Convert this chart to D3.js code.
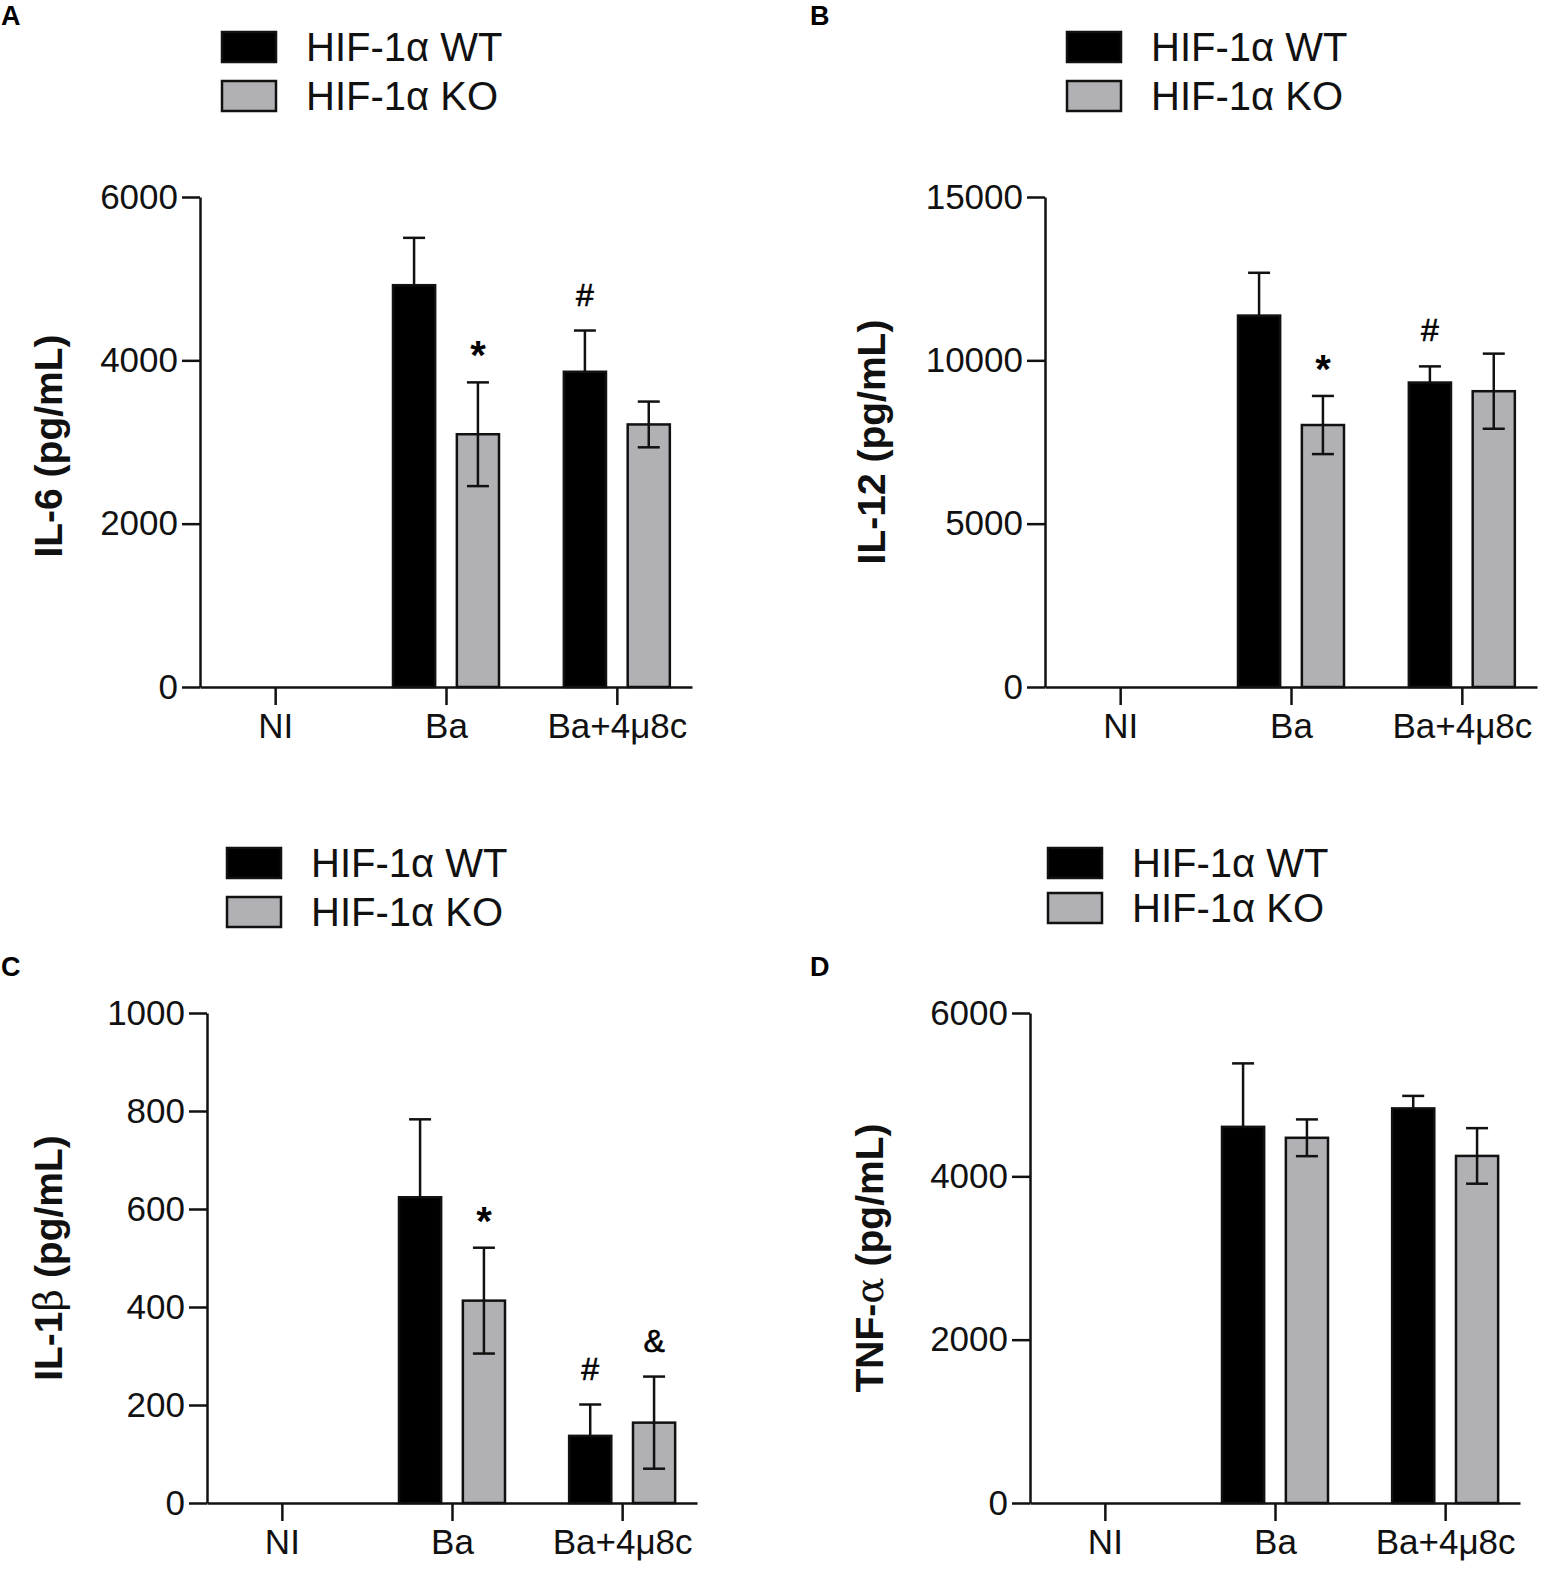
<!DOCTYPE html>
<html lang="en">
<head>
<meta charset="UTF-8" />
<title>HIF-1α cytokines</title>
<style>
  body { margin: 0; background: #fff; }
  svg { display: block; font-family: "Liberation Sans", Arial, sans-serif; }
  .axis path, .axis line { stroke: #111; stroke-width: 2.5px; }
  .axis text { font-size: 35px; fill: #111; font-family: "Liberation Sans", Arial, sans-serif; }
</style>
</head>
<body>
<svg id="fig" width="1562" height="1590"></svg>

<script src="https://d3js.org/d3.v7.min.js"></script>
<script>
// categories and groups
const categories = ['NI', 'Ba', 'Ba+4μ8c'];
const groups = ['HIF-1α WT', 'HIF-1α KO'];

// IL-6
const il6WT = [0, 4920, 3860];
const il6WTerr = [0, 580, 505];
const il6KO = [0, 3095, 3215];
const il6KOerr = [0, 635, 280];
const il6Ticks = [0, 2000, 4000, 6000];
const il6Marks = [['Ba', 1, '*'], ['Ba+4μ8c', 0, '#']];

// IL-12
const il12WT = [0, 11370, 9320];
const il12WTerr = [0, 1310, 495];
const il12KO = [0, 8020, 9055];
const il12KOerr = [0, 890, 1150];
const il12Ticks = [0, 5000, 10000, 15000];
const il12Marks = [['Ba', 1, '*'], ['Ba+4μ8c', 0, '#']];

// IL-1β
const il1bWT = [0, 624, 137];
const il1bWTerr = [0, 159, 64];
const il1bKO = [0, 413, 164];
const il1bKOerr = [0, 108, 94];
const il1bTicks = [0, 200, 400, 600, 800, 1000];
const il1bMarks = [['Ba', 1, '*'], ['Ba+4μ8c', 0, '#'], ['Ba+4μ8c', 1, '&']];

// TNF-α
const tnfWT = [0, 4606, 4832];
const tnfWTerr = [0, 777, 153];
const tnfKO = [0, 4472, 4250];
const tnfKOerr = [0, 225, 340];
const tnfTicks = [0, 2000, 4000, 6000];
const tnfMarks = [];

const colors = d3.scaleOrdinal().domain(groups).range(['#000000', '#b0b0b5']);

const panels = [
  { letter: 'A', label: ['IL-6 (pg/mL)'], vals: [il6WT, il6KO], errs: [il6WTerr, il6KOerr], ticks: il6Ticks, marks: il6Marks,
    lx: 1, ly: 25, legX: 222, legY: [32, 81], ax0: 200, ax1: 692, y0: 687, y1: 197, labX: 62, labY: 446 },
  { letter: 'B', label: ['IL-12 (pg/mL)'], vals: [il12WT, il12KO], errs: [il12WTerr, il12KOerr], ticks: il12Ticks, marks: il12Marks,
    lx: 810, ly: 25, legX: 1067, legY: [32, 81], ax0: 1045, ax1: 1537, y0: 687, y1: 197, labX: 885, labY: 442 },
  { letter: 'C', label: ['IL-1', 'β', ' (pg/mL)'], vals: [il1bWT, il1bKO], errs: [il1bWTerr, il1bKOerr], ticks: il1bTicks, marks: il1bMarks,
    lx: 1, ly: 976, legX: 227, legY: [848, 897], ax0: 207, ax1: 697, y0: 1503, y1: 1013, labX: 62, labY: 1258 },
  { letter: 'D', label: ['TNF-', 'α', ' (pg/mL)'], vals: [tnfWT, tnfKO], errs: [tnfWTerr, tnfKOerr], ticks: tnfTicks, marks: tnfMarks,
    lx: 810, ly: 976, legX: 1048, legY: [848, 893], ax0: 1030, ax1: 1520, y0: 1503, y1: 1013, labX: 883, labY: 1258 }
];

const svg = d3.select('#fig');

panels.forEach(p => {
  const g = svg.append('g');

  const x = d3.scalePoint().domain(categories).range([p.ax0, p.ax1]).padding(0.44);
  const sub = d3.scaleBand().domain(groups).range([-53, 53]).paddingInner(0.34);
  const y = d3.scaleLinear().domain([0, d3.max(p.ticks)]).range([p.y0, p.y1]);

  // panel letter
  g.append('text').attr('x', p.lx).attr('y', p.ly)
    .attr('font-size', 27).attr('font-weight', 'bold').text(p.letter);

  // legend
  groups.forEach((s, j) => {
    g.append('rect')
      .attr('x', p.legX).attr('y', p.legY[j]).attr('width', 54).attr('height', 30)
      .attr('fill', colors(s)).attr('stroke', '#111').attr('stroke-width', 2.5);
    g.append('text')
      .attr('x', p.legX + 84).attr('y', p.legY[j] + 29)
      .attr('font-size', 40).attr('fill', '#111').text(s);
  });

  // bars
  const rows = categories.flatMap((c, i) => groups.map((s, j) => ({ c, s, j, v: p.vals[j][i], e: p.errs[j][i] })))
    .filter(d => d.v > 0);

  g.selectAll('rect.bar')
    .data(rows)
    .join('rect')
    .attr('class', 'bar')
    .attr('x', d => x(d.c) + sub(d.s))
    .attr('y', d => y(d.v))
    .attr('width', sub.bandwidth())
    .attr('height', d => y(0) - y(d.v))
    .attr('fill', d => colors(d.s))
    .attr('stroke', '#111')
    .attr('stroke-width', 2.5);

  // error bars (black bars hide the lower half, so only draw it on grey ones)
  const eb = g.selectAll('g.err').data(rows).join('g').attr('class', 'err')
    .attr('stroke', '#111').attr('stroke-width', 2.5);
  const cx = d => x(d.c) + sub(d.s) + sub.bandwidth() / 2;
  const lo = d => d.j === 0 ? d.v : d.v - d.e;
  eb.append('line').attr('x1', cx).attr('x2', cx).attr('y1', d => y(lo(d))).attr('y2', d => y(d.v + d.e));
  eb.append('line').attr('x1', d => cx(d) - 11).attr('x2', d => cx(d) + 11).attr('y1', d => y(d.v + d.e)).attr('y2', d => y(d.v + d.e));
  eb.filter(d => d.j === 1)
    .append('line').attr('x1', d => cx(d) - 11).attr('x2', d => cx(d) + 11).attr('y1', d => y(d.v - d.e)).attr('y2', d => y(d.v - d.e));

  // significance marks
  p.marks.forEach(([c, j, t]) => {
    const i = categories.indexOf(c);
    const top = y(p.vals[j][i] + p.errs[j][i]);
    g.append('text')
      .attr('x', x(c) + sub(groups[j]) + sub.bandwidth() / 2)
      .attr('y', top - (t === '*' ? 13 : 25))
      .attr('text-anchor', 'middle')
      .attr('font-size', t === '*' ? 40 : 32)
      .attr('font-weight', t === '*' ? 'bold' : 'normal')
      .attr('stroke', '#000').attr('stroke-width', t === '*' ? 0 : 0.6)
      .text(t);
  });

  // axes
  g.append('g').attr('class', 'axis')
    .attr('transform', `translate(${p.ax0},0)`)
    .call(d3.axisLeft(y).tickValues(p.ticks).tickSizeInner(18).tickSizeOuter(0).tickPadding(4).tickFormat(d3.format('d')));

  g.append('g').attr('class', 'axis')
    .attr('transform', `translate(0,${p.y0})`)
    .call(d3.axisBottom(x).tickSizeInner(18).tickSizeOuter(0).tickPadding(8));

  // y label
  const yl = g.append('text')
    .attr('transform', `translate(${p.labX},${p.labY}) rotate(-90)`)
    .attr('text-anchor', 'middle')
    .attr('font-size', 39).attr('font-weight', 'bold').attr('fill', '#111');
  p.label.forEach((part, k) => {
    const ts = yl.append('tspan').text(part);
    if (k === 1) ts.attr('font-weight', 'normal').attr('font-family', '"DejaVu Serif", serif');
  });
});
</script>
</body>
</html>
